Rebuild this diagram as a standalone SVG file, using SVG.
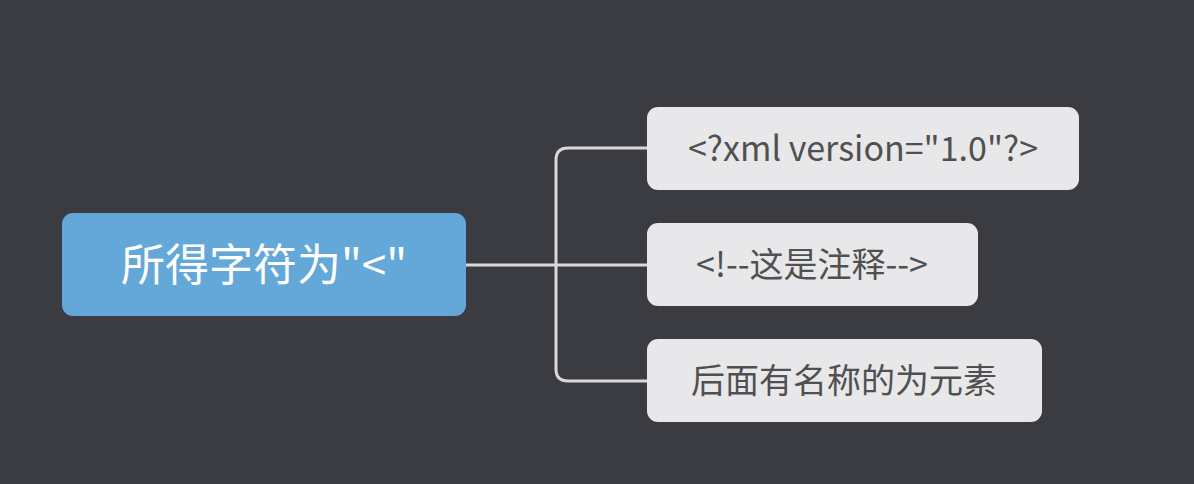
<svg xmlns="http://www.w3.org/2000/svg" width="1194" height="484" viewBox="0 0 1194 484">
<style>
.bg{fill:#3b3c42}
.root{fill:#64a8d9}
.child{fill:#e8e8ea}
.rt{fill:#ffffff;font-family:"Noto Sans CJK SC","Microsoft YaHei",sans-serif;font-size:44px}
.ct{fill:#505050;font-family:"Noto Sans CJK SC","Microsoft YaHei",sans-serif;font-size:34px}
.conn{fill:none;stroke:#d9d9db;stroke-width:3}
</style>
<rect class="bg" x="0" y="0" width="1194" height="484"/>
<g id="connectors">
<path class="conn" d="M466 265 H647"/>
<path class="conn" d="M647 148 H568 Q556 148 556 160 V369 Q556 381 568 381 H647"/>
</g>
<g id="root">
<rect class="root" x="62" y="213" width="404" height="103" rx="11"/>
<text class="rt" x="264" y="281" text-anchor="middle">所得字符为"&lt;"</text>
</g>
<g id="n1">
<rect class="child" x="647" y="107" width="432" height="83" rx="11"/>
<text class="ct" x="863" y="161" text-anchor="middle">&lt;?xml version="1.0"?&gt;</text>
</g>
<g id="n2">
<rect class="child" x="647" y="223" width="331" height="83" rx="11"/>
<text class="ct" x="812" y="277" text-anchor="middle">&lt;!--这是注释--&gt;</text>
</g>
<g id="n3">
<rect class="child" x="647" y="339" width="395" height="83" rx="11"/>
<text class="ct" x="844" y="393" text-anchor="middle">后面有名称的为元素</text>
</g>
</svg>
